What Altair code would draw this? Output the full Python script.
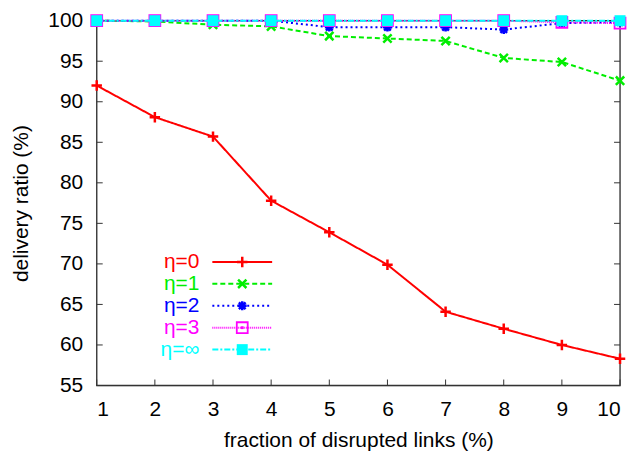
import altair as alt
import pandas as pd

# ---- data ----
x_vals = [1, 2, 3, 4, 5, 6, 7, 8, 9, 10]
eta0 = [92.0, 88.1, 85.7, 77.8, 73.9, 69.9, 64.1, 62.0, 60.0, 58.3]
eta1 = [100.0, 99.9, 99.5, 99.3, 98.1, 97.8, 97.5, 95.4, 94.9, 92.6]
eta2 = [100.0, 100.0, 100.0, 100.0, 99.2, 99.2, 99.2, 98.9, 99.7, 99.8]
eta3 = [100.0, 100.0, 100.0, 100.0, 100.0, 100.0, 100.0, 100.0, 99.8, 99.7]
eta_inf = [100.0, 100.0, 100.0, 100.0, 100.0, 100.0, 100.0, 100.0, 100.0, 100.0]
series_names = ["η=0", "η=1", "η=2", "η=3", "η=∞"]
x_ticks = [1, 2, 3, 4, 5, 6, 7, 8, 9, 10]
y_ticks = [55, 60, 65, 70, 75, 80, 85, 90, 95, 100]

W, H = 525, 366
FONT = "Liberation Sans"
FRAME = "#333333"

PLUS = "M-1,0L1,0M0,-1L0,1"
XSHAPE = "M-1,-1L1,1M-1,1L1,-1"
STAR = "M-1,0L1,0M0,-1L0,1M-0.75,-0.75L0.75,0.75M-0.75,0.75L0.75,-0.75"

styles = [
    dict(color="#ff0000", dash=[1, 0], shape=PLUS, filled=False, size=110, sw=2.5),
    dict(color="#00ee00", dash=[5, 3], shape=XSHAPE, filled=False, size=70, sw=2.5),
    dict(color="#0000ff", dash=[2, 3], shape=STAR, filled=False, size=80, sw=2.5),
    dict(color="#ff00ff", dash=[1, 1], shape="square", filled=False, size=120, sw=1.8),
    dict(color="#00ffff", dash=[6, 2, 2, 2], shape="square", filled=True, size=121, sw=0),
]
values = [eta0, eta1, eta2, eta3, eta_inf]

xscale = alt.Scale(domain=[1, 10], nice=False, zero=False)
yscale = alt.Scale(domain=[55, 100], nice=False, zero=False)

xaxis = alt.Axis(values=x_ticks, format="d", ticks=False, domain=False, grid=False,
                 labelFontSize=21, labelPadding=13, labelFont=FONT, labelColor="black",
                 title="fraction of disrupted links (%)", titleFontSize=21,
                 titleFont=FONT, titleFontWeight="normal", titleColor="black",
                 titlePadding=10)
yaxis = alt.Axis(values=y_ticks, format="d", ticks=False, domain=False, grid=False,
                 labelFontSize=21, labelPadding=14, labelFont=FONT, labelColor="black",
                 title="delivery ratio (%)", titleFontSize=21, titleFont=FONT,
                 titleFontWeight="normal", titleColor="black", titlePadding=16)

layers = []

# frame
frame = alt.Chart(pd.DataFrame({"k": [0]}))
layers.append(frame.mark_rect(fill=None, fillOpacity=0, stroke=FRAME, strokeWidth=1.3).encode(
    x=alt.value(0), x2=alt.value(W), y=alt.value(0), y2=alt.value(H)))

# inward ticks on all four sides
xt = alt.Chart(pd.DataFrame({"x": x_ticks}))
yt = alt.Chart(pd.DataFrame({"y": y_ticks}))
layers.append(xt.mark_rule(color=FRAME, strokeWidth=1).encode(
    x=alt.X("x:Q", scale=xscale, axis=xaxis), y=alt.value(H), y2=alt.value(H - 6)))
layers.append(xt.mark_rule(color=FRAME, strokeWidth=1).encode(
    x=alt.X("x:Q", scale=xscale), y=alt.value(0), y2=alt.value(6)))
layers.append(yt.mark_rule(color=FRAME, strokeWidth=1).encode(
    y=alt.Y("y:Q", scale=yscale, axis=yaxis), x=alt.value(0), x2=alt.value(6)))
layers.append(yt.mark_rule(color=FRAME, strokeWidth=1).encode(
    y=alt.Y("y:Q", scale=yscale), x=alt.value(W), x2=alt.value(W - 6)))

# series
for name, vals, st in zip(series_names, values, styles):
    df = pd.DataFrame({"x": x_vals, "y": vals, "s": name})
    base = alt.Chart(df).encode(x=alt.X("x:Q", scale=xscale),
                                y=alt.Y("y:Q", scale=yscale))
    layers.append(base.mark_line(color=st["color"], strokeWidth=2,
                                 strokeDash=st["dash"]))
    if st["filled"]:
        layers.append(base.mark_point(shape=st["shape"], filled=True, opacity=1,
                                      color=st["color"], size=st["size"]))
    else:
        layers.append(base.mark_point(shape=st["shape"], filled=False, opacity=1,
                                      color=st["color"], size=st["size"],
                                      strokeWidth=st["sw"]))
        if st["shape"] == "square":
            layers.append(base.mark_point(shape="square", filled=True, opacity=1,
                                          color=st["color"], size=8))

# custom legend (label left, line sample right), drawn inside the plot
for i, (name, st) in enumerate(zip(series_names, styles)):
    py = 242 + i * 22
    one = alt.Chart(pd.DataFrame({"label": [name]}))
    layers.append(one.mark_text(align="right", baseline="middle", font=FONT,
                                fontSize=21, color=st["color"]).encode(
        x=alt.value(103), y=alt.value(py), text="label:N"))
    layers.append(one.mark_rule(color=st["color"], strokeWidth=2,
                                strokeDash=st["dash"]).encode(
        x=alt.value(116), x2=alt.value(176), y=alt.value(py)))
    if st["filled"]:
        layers.append(one.mark_point(shape=st["shape"], filled=True, opacity=1,
                                     color=st["color"], size=st["size"]).encode(
            x=alt.value(146), y=alt.value(py)))
    else:
        layers.append(one.mark_point(shape=st["shape"], filled=False, opacity=1,
                                     color=st["color"], size=st["size"],
                                     strokeWidth=st["sw"]).encode(
            x=alt.value(146), y=alt.value(py)))
        if st["shape"] == "square":
            layers.append(one.mark_point(shape="square", filled=True, opacity=1,
                                         color=st["color"], size=8).encode(
                x=alt.value(146), y=alt.value(py)))

chart = alt.layer(*layers).properties(
    width=W, height=H,
    autosize=alt.AutoSizeParams(type="none"),
    padding={"left": 89, "top": 12, "right": 8, "bottom": 68},
).configure_view(stroke=None).configure(background="white")

chart.save("out.html", embed_options={"renderer": "svg", "actions": False})
